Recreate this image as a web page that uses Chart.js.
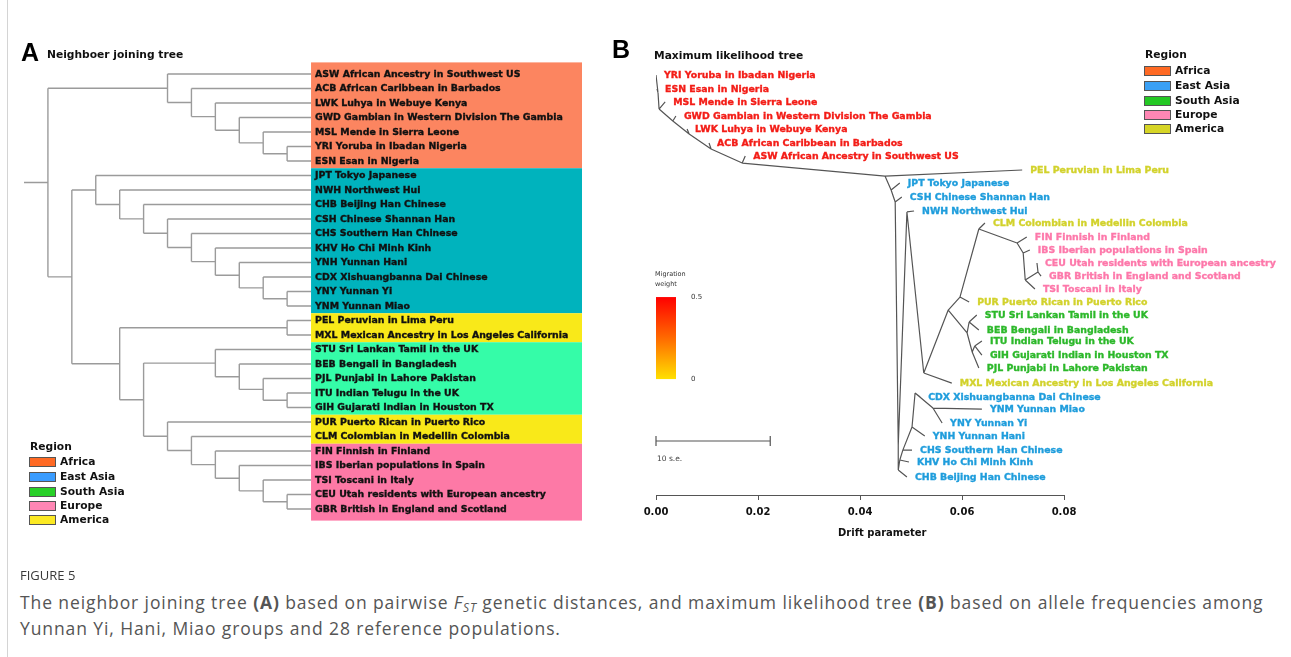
<!DOCTYPE html>
<html><head><meta charset="utf-8">
<script src="https://cdn.jsdelivr.net/npm/chart.js@4.4.1/dist/chart.umd.min.js"></script>
<style>
html,body{margin:0;padding:0;background:#fff;}
body{width:1291px;height:657px;position:relative;overflow:hidden;font-family:"DejaVu Sans",sans-serif;}
.abs{position:absolute;white-space:nowrap;}
canvas{position:absolute;top:0;}
#cA{left:0;}
#cB{left:600px;}
.frame{position:absolute;left:7px;top:0;width:1px;height:657px;background:#d4d4d4;}
.letter{font-family:"Liberation Sans",Arial,sans-serif;font-weight:bold;font-size:25px;line-height:25px;color:#000;}
.bold10{font-family:"DejaVu Sans",sans-serif;font-weight:bold;font-size:10px;line-height:12px;color:#111;}
.ttl{font-size:10.7px;}
.lg{font-size:10.7px;}
.sw{position:absolute;width:27px;height:10px;box-sizing:border-box;border:1px solid #555;}
.cap{font-family:"Open Sans",sans-serif;font-size:17.5px;line-height:22px;letter-spacing:0.9px;color:#555;}
</style></head>
<body>
<div class="frame"></div>
<canvas id="cA" width="600" height="540"></canvas>
<canvas id="cB" width="691" height="540"></canvas>

<div class="abs letter" style="left:21px;top:40px">A</div>
<div class="abs bold10 ttl" style="left:47px;top:49px">Neighboer joining tree</div>
<div class="abs letter" style="left:612px;top:37px">B</div>
<div class="abs bold10 ttl" style="left:654px;top:50px">Maximum likelihood tree</div>
<div class="abs bold10" style="left:838px;top:527px">Drift parameter</div>

<div id="legA"></div>
<div id="legB"></div>

<div class="abs" style="left:20px;top:565px;font-family:'Open Sans',sans-serif;font-size:13px;line-height:20px;color:#3a3a3a;">FIGURE 5</div>
<div class="abs cap" style="left:20px;top:591px">The neighbor joining tree <b>(A)</b> based on pairwise <i>F</i><i style="font-size:12px;position:relative;top:3px">ST</i> genetic distances, and maximum likelihood tree <b>(B)</b> based on allele frequencies among</div>
<div class="abs cap" style="left:20px;top:617px">Yunnan Yi, Hani, Miao groups and 28 reference populations.</div>

<script>
// ---------- data ----------
const popCodes = ['ASW','ACB','LWK','GWD','MSL','YRI','ESN','JPT','NWH','CHB','CSH','CHS','KHV','YNH','CDX','YNY','YNM','PEL','MXL','STU','BEB','PJL','ITU','GIH','PUR','CLM','FIN','IBS','TSI','CEU','GBR'];
const popDesc = ['African Ancestry in Southwest US','African Caribbean in Barbados','Luhya in Webuye Kenya','Gambian in Western Division The Gambia','Mende in Sierra Leone','Yoruba in Ibadan Nigeria','Esan in Nigeria','Tokyo Japanese','Northwest Hui','Beijing Han Chinese','Chinese Shannan Han','Southern Han Chinese','Ho Chi Minh Kinh','Yunnan Hani','Xishuangbanna Dai Chinese','Yunnan Yi','Yunnan Miao','Peruvian in Lima Peru','Mexican Ancestry in Los Angeles California','Sri Lankan Tamil in the UK','Bengali in Bangladesh','Punjabi in Lahore Pakistan','Indian Telugu in the UK','Gujarati Indian in Houston TX','Puerto Rican in Puerto Rico','Colombian in Medellin Colombia','Finnish in Finland','Iberian populations in Spain','Toscani in Italy','Utah residents with European ancestry','British in England and Scotland'];
const popRegion = ['AFR','AFR','AFR','AFR','AFR','AFR','AFR','EAS','EAS','EAS','EAS','EAS','EAS','EAS','EAS','EAS','EAS','AMR','AMR','SAS','SAS','SAS','SAS','SAS','AMR','AMR','EUR','EUR','EUR','EUR','EUR'];
const regionKeys = ['AFR','EAS','SAS','EUR','AMR'];
const regionNames = ['Africa','East Asia','South Asia','Europe','America'];

// Neighbor joining tree (A): internal nodes, children and depth level
const njNode   = ['n1','n2','n3','n4','n5','n6','e1','e2','e3','e4','e5','e6','e7','e8','e9','m1','s1','s2','s3','s4','u1','u2','u3','u4','u5','u6','k1','k2','k3','root'];
const njChildA = ['YRI','MSL','GWD','LWK','ACB','ASW','YNY','CDX','YNH','KHV','CHS','CSH','CHB','NWH','JPT','PEL','ITU','PJL','BEB','STU','CEU','TSI','IBS','FIN','CLM','PUR','s4','m1','e9','n6'];
const njChildB = ['ESN','n1','n2','n3','n4','n5','YNM','e1','e2','e3','e4','e5','e6','e7','e8','MXL','GIH','s1','s2','s3','GBR','u1','u2','u3','u4','u5','u6','k1','k2','k3'];
const njDepth  = [10,9,8,7,6,5,10,9,8,7,6,5,4,3,2,10,10,9,8,7,10,9,8,7,6,5,4,3,1,0];
const njLeafDepth = 11;

// Maximum likelihood tree (B): node, drift (x), vertical position (row), parent
const mlNode   = ['YRI','ESN','MSL','GWD','LWK','ACB','ASW','PEL','JPT','CSH','NWH','CLM','FIN','IBS','CEU','GBR','TSI','PUR','STU','BEB','ITU','GIH','PJL','MXL','CDX','YNM','YNY','YNH','CHS','KHV','CHB',
                  'a1','a2','a3','a4','a5','a6','J1','j1b','J2','T1','B0','Nn','M','SAE','AE','CLMn','EUn','IBSn','TSIn','CG','SA','STUn','SA2','ITUn','K1','C1','H1','E1','Y1'];
const mlDrift  = [0.0000,0.0002,0.0018,0.0039,0.0061,0.0104,0.0175,0.0718,0.0478,0.0482,0.0506,0.0645,0.0727,0.0733,0.0747,0.0755,0.0743,0.0614,0.0629,0.0633,0.0639,0.0639,0.0633,0.0580,0.0518,0.0639,0.0561,0.0527,0.0502,0.0496,0.0492,
                  0.0004,0.0006,0.0033,0.0065,0.0108,0.0169,0.0449,0.0461,0.0469,0.0475,0.0475,0.0492,0.0525,0.0573,0.0596,0.0633,0.0708,0.0720,0.0724,0.0749,0.0610,0.0614,0.0620,0.0625,0.0478,0.0484,0.0502,0.0508,0.0543];
const mlRow    = [0,1.04,2.01,3.06,4.03,5.07,6.04,7.09,8.06,9.10,10.15,11.04,12.09,13.06,14.03,15.00,15.97,16.94,17.91,19.03,19.85,20.90,21.87,22.99,24.03,24.93,25.97,26.94,27.99,28.88,30.00,
                  1.34,2.54,3.43,4.40,5.52,6.57,7.54,8.58,9.48,27.61,29.48,10.22,22.24,17.54,16.57,11.49,12.54,13.28,15.30,14.70,19.25,18.43,20.67,20.22,28.73,27.99,26.27,23.73,24.85];
const mlParent = ['a1','a1','a2','a3','a4','a5','a6','J1','j1b','J2','Nn','CLMn','EUn','IBSn','CG','CG','TSIn','AE','STUn','STUn','ITUn','ITUn','SA2','M','E1','Y1','Y1','H1','C1','K1','B0',
                  'a2','a3','a4','a5','a6','J1','','J1','j1b','J2','T1','T1','Nn','M','SAE','AE','CLMn','EUn','IBSn','TSIn','SAE','SA','SA','SA2','B0','K1','C1','H1','E1'];
const axisTicks = [0, 0.02, 0.04, 0.06, 0.08];
const scaleBarSE = 0.0224;            // length of "10 s.e." bar in drift units
const migrationRange = ['0.5', '0'];

// ---------- styles ----------
const bandColor = {AFR:'#fc8560',EAS:'#00b3bd',SAS:'#35fca8',EUR:'#fd79a6',AMR:'#f9e919'};
const legAColor = {AFR:'#ff6a24',EAS:'#3a9cff',SAS:'#28d028',EUR:'#ff86b4',AMR:'#fbe923'};
const legBColor = {AFR:'#ff6a24',EAS:'#3aa0f5',SAS:'#24c824',EUR:'#ff86b4',AMR:'#d6d526'};
const mlTextColor = {AFR:'#f31d17',EAS:'#1f9ddc',SAS:'#2cb82a',EUR:'#fd78aa',AMR:'#d2d22c'};
const labelFont = 'bold 9.4px "DejaVu Sans", sans-serif';

function heavyText(ctx, txt, x, y, color) {
  ctx.fillStyle = color; ctx.strokeStyle = color; ctx.lineWidth = 0.35;
  ctx.fillText(txt, x, y); ctx.strokeText(txt, x, y);
}

// ---------- legends (HTML) ----------
function buildLegend(el, left, regionTop, rows, colors) {
  let h = `<div class="abs bold10 lg" style="left:${left+1}px;top:${regionTop-6}px">Region</div>`;
  regionKeys.forEach((k,i) => {
    const cy = rows[i];
    h += `<div class="sw" style="left:${left}px;top:${cy-5}px;background:${colors[k]}"></div>`;
    h += `<div class="abs bold10 lg" style="left:${left+31}px;top:${cy-6}px">${regionNames[i]}</div>`;
  });
  el.innerHTML = h;
}
buildLegend(document.getElementById('legA'), 29, 447, [462,477,492,506,520], legAColor);
buildLegend(document.getElementById('legB'), 1144, 55, [71,86,101,115,129], legBColor);

// ---------- Panel A: neighbor joining tree ----------
const leafIndex = {}; popCodes.forEach((c,i) => leafIndex[c] = i);
const nodeIdx = {}; njNode.forEach((n,i) => nodeIdx[n] = i);
const yCache = {};
function njY(id) {
  if (id in leafIndex) return leafIndex[id];
  if (id in yCache) return yCache[id];
  const i = nodeIdx[id];
  return yCache[id] = (njY(njChildA[i]) + njY(njChildB[i])) / 2;
}
function njX(id) { return (id in leafIndex) ? njLeafDepth : njDepth[nodeIdx[id]]; }
const njSegs = [];
function seg(arr, x1, y1, x2, y2) { arr.push({x:x1,y:y1},{x:x2,y:y2},{x:x2,y:null}); }
njNode.forEach((n,i) => {
  const d = njDepth[i], ya = njY(njChildA[i]), yb = njY(njChildB[i]);
  seg(njSegs, d, ya, d, yb);
  seg(njSegs, d, ya, njX(njChildA[i]), ya);
  seg(njSegs, d, yb, njX(njChildB[i]), yb);
});
seg(njSegs, -1, njY('root'), 0, njY('root'));

const njPlugin = {
  id: 'njDecor',
  beforeDatasetsDraw(chart) {
    const {ctx, scales:{x,y}, chartArea} = chart;
    const x0 = x.getPixelForValue(njLeafDepth), x1 = chartArea.right;
    const n = popCodes.length;
    let s = 0;
    for (let i = 1; i <= n; i++) {
      if (i === n || popRegion[i] !== popRegion[s]) {
        const top = y.getPixelForValue(s === 0 ? -0.8 : s - 0.5);
        const bot = y.getPixelForValue(i === n ? n - 1 + 0.8 : i - 0.5);
        ctx.fillStyle = bandColor[popRegion[s]];
        ctx.fillRect(x0, top, x1 - x0, bot - top);
        s = i;
      }
    }
  },
  afterDatasetsDraw(chart) {
    const {ctx, scales:{x,y}} = chart;
    ctx.save();
    ctx.font = labelFont; ctx.textBaseline = 'middle'; ctx.textAlign = 'left';
    popCodes.forEach((c,i) => heavyText(ctx, c + ' ' + popDesc[i], x.getPixelForValue(njLeafDepth) + 4, y.getPixelForValue(i) + 0.5, '#111'));
    ctx.restore();
  }
};

new Chart(document.getElementById('cA'), {
  type: 'scatter',
  data: { datasets: [{ data: njSegs, showLine: true, spanGaps: false, pointRadius: 0, borderColor: '#9b9b9b', borderWidth: 1.4 }] },
  options: {
    responsive: false, animation: false, devicePixelRatio: 1,
    layout: { padding: { left: 24, right: 18, top: 59.5, bottom: 16.5 } },
    plugins: { legend: { display: false }, tooltip: { enabled: false } },
    scales: {
      x: { type: 'linear', display: false, min: -1, max: -1 + 558 / 23.92 },
      y: { type: 'linear', display: false, min: -1, max: 31, reverse: true }
    }
  },
  plugins: [njPlugin]
});

// ---------- Panel B: maximum likelihood tree ----------
const mlIdx = {}; mlNode.forEach((n,i) => mlIdx[n] = i);
const mlSegs = [];
mlNode.forEach((n,i) => {
  const p = mlParent[i];
  if (!p) return;
  const j = mlIdx[p];
  seg(mlSegs, mlDrift[j], mlRow[j], mlDrift[i], mlRow[i]);
});

const mlPlugin = {
  id: 'mlDecor',
  afterDatasetsDraw(chart) {
    const {ctx, scales:{x,y}} = chart;
    ctx.save();
    // leaf labels
    ctx.font = labelFont; ctx.textBaseline = 'middle'; ctx.textAlign = 'left';
    mlNode.forEach((n,i) => {
      if (!(n in leafIndex)) return;
      const k = leafIndex[n];
      heavyText(ctx, n + ' ' + popDesc[k], x.getPixelForValue(mlDrift[i]) + 8, y.getPixelForValue(mlRow[i]) + 0.5, mlTextColor[popRegion[k]]);
    });
    // migration weight colour bar
    const gx = x.getPixelForValue(0), gTop = y.getPixelForValue(16.57), gBot = y.getPixelForValue(22.69);
    const g = ctx.createLinearGradient(0, gTop, 0, gBot);
    g.addColorStop(0, '#ff0000'); g.addColorStop(0.5, '#ff6a00'); g.addColorStop(1, '#ffe000');
    ctx.fillStyle = g; ctx.fillRect(gx, gTop, 20, gBot - gTop);
    ctx.fillStyle = '#333'; ctx.font = '6.5px "DejaVu Sans", sans-serif';
    ctx.fillText('Migration', gx - 1, gTop - 23);
    ctx.fillText('weight', gx - 1, gTop - 13);
    ctx.font = '7px "DejaVu Sans", sans-serif';
    ctx.fillText(migrationRange[0], gx + 35, gTop);
    ctx.fillText(migrationRange[1], gx + 35, gBot);
    // scale bar
    const sy = y.getPixelForValue(27.31), sx1 = x.getPixelForValue(scaleBarSE);
    ctx.strokeStyle = '#555'; ctx.lineWidth = 1.2;
    ctx.beginPath();
    ctx.moveTo(gx, sy); ctx.lineTo(sx1, sy);
    ctx.moveTo(gx, sy - 5); ctx.lineTo(gx, sy + 5);
    ctx.moveTo(sx1, sy - 5); ctx.lineTo(sx1, sy + 5);
    ctx.stroke();
    ctx.fillStyle = '#444'; ctx.font = '7.5px "DejaVu Sans", sans-serif';
    ctx.fillText('10 s.e.', gx + 1, sy + 18);
    ctx.restore();
  }
};

new Chart(document.getElementById('cB'), {
  type: 'scatter',
  data: { datasets: [{ data: mlSegs, showLine: true, spanGaps: false, pointRadius: 0, borderColor: '#555', borderWidth: 1.2 }] },
  options: {
    responsive: false, animation: false, devicePixelRatio: 1,
    layout: { padding: { left: 56, right: 227, top: 61.6, bottom: 0 } },
    plugins: { legend: { display: false }, tooltip: { enabled: false } },
    scales: {
      x: {
        type: 'linear', min: 0, max: 0.08,
        afterBuildTicks: s => { s.ticks = axisTicks.map(v => ({ value: v })); },
        afterFit: s => { s.height = 45; },
        ticks: { callback: v => Number(v).toFixed(2), color: '#111', font: { family: '"DejaVu Sans", sans-serif', size: 10, weight: 'bold' }, padding: 6, maxRotation: 0 },
        grid: { drawOnChartArea: false, drawTicks: true, tickLength: 5, color: '#555' },
        border: { display: true, color: '#555', width: 1 }
      },
      y: { type: 'linear', display: false, min: -1, max: 31.34, reverse: true }
    }
  },
  plugins: [mlPlugin]
});
</script>
</body></html>
